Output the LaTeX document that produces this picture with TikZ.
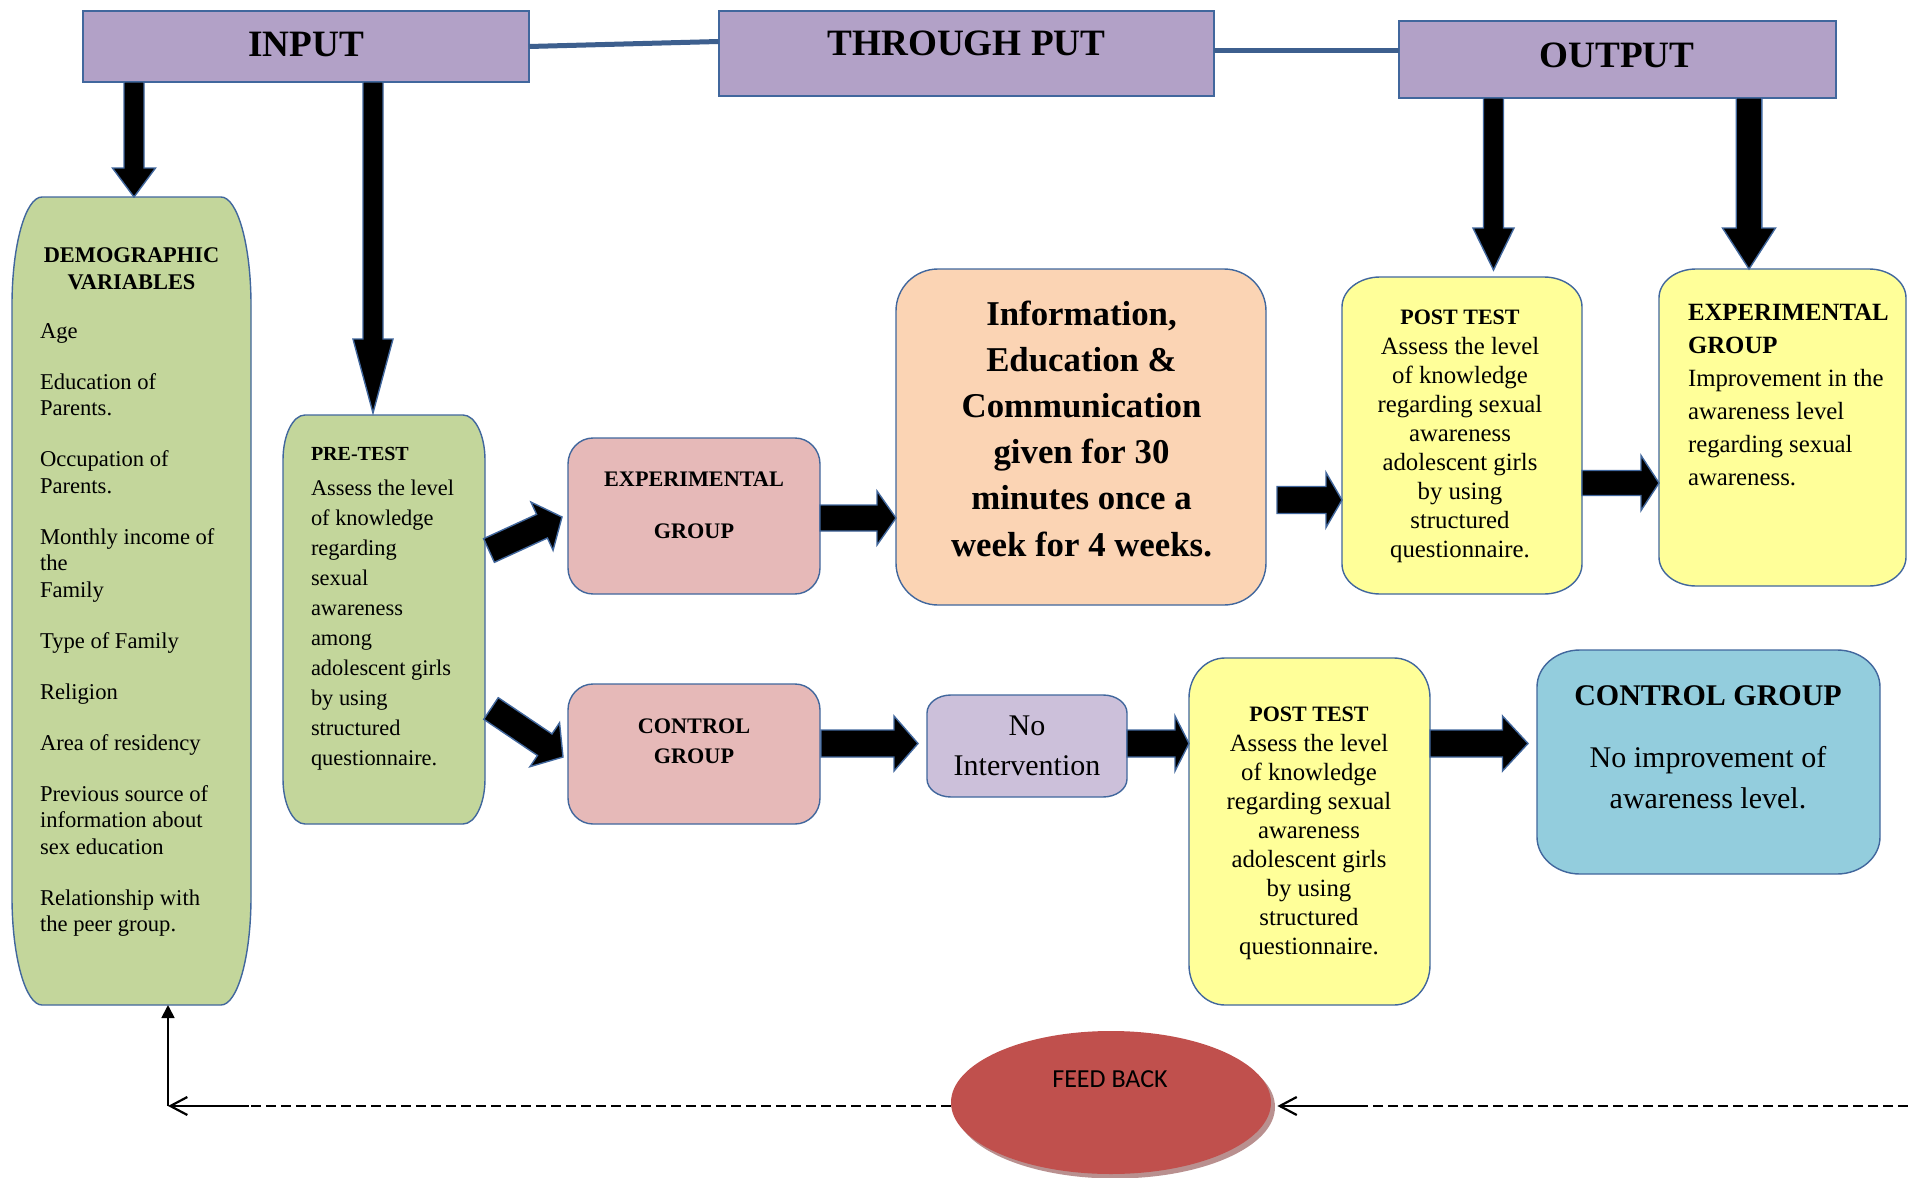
\documentclass[tikz,border=0pt]{standalone}
\usepackage{fontspec}
\setmainfont{Liberation Serif}
\newfontfamily\fbfont{Carlito}
\usetikzlibrary{calc,arrows.meta,shapes.geometric}

\definecolor{hpurple}{HTML}{B2A1C7}
\definecolor{edgeblue}{HTML}{41679D}
\definecolor{hlinec}{HTML}{3D5F8E}
\definecolor{dgreen}{HTML}{C3D69B}
\definecolor{dpink}{HTML}{E6B9B8}
\definecolor{dpeach}{HTML}{FBD4B4}
\definecolor{dyellow}{HTML}{FFFF99}
\definecolor{dlav}{HTML}{CCC0DA}
\definecolor{dblue}{HTML}{93CDDD}
\definecolor{dred}{HTML}{C0504D}
\definecolor{dshadow}{HTML}{B9908F}

% box outline with elliptic corners: #1 node, #2 rx, #3 ry, #4 style
\newcommand\elbox[4]{%
  \path[#4] ($(#1.north west)+(#2,0)$) -- ($(#1.north east)+(-#2,0)$)
  .. controls ($(#1.north east)+(-0.448*#2,0)$) and ($(#1.north east)+(0,0.448*#3)$) .. ($(#1.north east)+(0,#3)$)
  -- ($(#1.south east)+(0,-#3)$)
  .. controls ($(#1.south east)+(0,-0.448*#3)$) and ($(#1.south east)+(-0.448*#2,0)$) .. ($(#1.south east)+(-#2,0)$)
  -- ($(#1.south west)+(#2,0)$)
  .. controls ($(#1.south west)+(0.448*#2,0)$) and ($(#1.south west)+(0,-0.448*#3)$) .. ($(#1.south west)+(0,-#3)$)
  -- ($(#1.north west)+(0,#3)$)
  .. controls ($(#1.north west)+(0,0.448*#3)$) and ($(#1.north west)+(0.448*#2,0)$) .. ($(#1.north west)+(#2,0)$) -- cycle;}

% block arrow: #1 start, #2 tip, #3 half shaft, #4 half head, #5 head length
\newcommand\blockarr[5]{%
  \coordinate (bab) at ($(#2)!#5!(#1)$);
  \filldraw[blockarrow] ($(#1)!#3!90:(#2)$) -- ($(bab)!#3!90:(#2)$) -- ($(bab)!#4!90:(#2)$) -- (#2)
    -- ($(bab)!#4!-90:(#2)$) -- ($(bab)!#3!-90:(#2)$) -- ($(#1)!#3!-90:(#2)$) -- cycle;}

\tikzset{
  boxn/.style={rectangle, inner sep=0pt, outer sep=0pt},
  hdr/.style={rectangle, draw=edgeblue, line width=1pt, fill=hpurple, inner sep=0pt, outer sep=0pt},
  eb/.style={draw=edgeblue, line width=0.7pt},
  blockarrow/.style={fill=black, draw=edgeblue, line width=0.7pt, line join=miter},
  hconn/.style={draw=hlinec, line width=2.5pt},
  txt/.style={inner sep=0pt, outer sep=0pt},
  fbdash/.style={draw=black, line width=0.8pt, dash pattern=on 5pt off 2.5pt},
  fbsolid/.style={draw=black, line width=1.1pt},
  hfont/.style={font=\bfseries\fontsize{18.6}{22}\selectfont},
}

\begin{document}
\begin{tikzpicture}[x=0.5pt, y=-0.5pt]
\path[use as bounding box, fill=white] (0,0) rectangle (1908,1178);

% header boxes
\node[hdr, minimum width=223pt, minimum height=35.5pt] (input) at (306,46.5) {};
\node[hdr, minimum width=247.5pt, minimum height=42.5pt] (through) at (966,53.5) {};
\node[hdr, minimum width=218.5pt, minimum height=38.5pt] (output) at (1617.5,59.5) {};

% header connectors
\draw[hconn] (input.east) -- ($(through.west)+(0,-12)$);
\draw[hconn] ($(through.east)+(0,-3)$) -- ($(output.west)+(0,-9)$);

% rounded boxes (frames)
\node[boxn, minimum width=119.5pt, minimum height=404pt] (demo) at (131.5,601) {};
\node[boxn, minimum width=101pt, minimum height=204.5pt] (pretest) at (384,619.5) {};
\node[boxn, minimum width=126pt, minimum height=78pt] (expg) at (694,516) {};
\node[boxn, minimum width=126pt, minimum height=70pt] (ctrlg) at (694,754) {};
\node[boxn, minimum width=185pt, minimum height=168pt] (info) at (1081,437) {};
\node[boxn, minimum width=120pt, minimum height=158.5pt] (post1) at (1462,435.5) {};
\node[boxn, minimum width=123.5pt, minimum height=158.5pt] (expres) at (1782.5,427.5) {};
\node[boxn, minimum width=100pt, minimum height=51pt] (noint) at (1027,746) {};
\node[boxn, minimum width=120.5pt, minimum height=173.5pt] (post2) at (1309.5,831.5) {};
\node[boxn, minimum width=171.5pt, minimum height=112pt] (ctrlres) at (1708.5,762) {};

\elbox{demo}{30}{108}{eb, fill=dgreen}
\elbox{pretest}{22}{45}{eb, fill=dgreen}
\elbox{expg}{25}{26}{eb, fill=dpink}
\elbox{ctrlg}{25}{26}{eb, fill=dpink}
\elbox{info}{42}{42}{eb, fill=dpeach}
\elbox{post1}{38}{30}{eb, fill=dyellow}
\elbox{expres}{37}{29}{eb, fill=dyellow}
\elbox{noint}{24}{18}{eb, fill=dlav}
\elbox{post2}{36}{40}{eb, fill=dyellow}
\elbox{ctrlres}{43}{37}{eb, fill=dblue}

% vertical block arrows
\coordinate (a1t) at ($(demo.north)+(2.5,0)$);
\coordinate (a1s) at (input.south -| a1t);
\blockarr{a1s}{a1t}{5pt}{10.75pt}{14.5pt}
\coordinate (a2t) at ($(pretest.north)+(-11,-2)$);
\coordinate (a2s) at (input.south -| a2t);
\blockarr{a2s}{a2t}{5pt}{10pt}{37pt}
\coordinate (a3t) at ($(post1.north)+(31.5,-7)$);
\coordinate (a3s) at (output.south -| a3t);
\blockarr{a3s}{a3t}{5pt}{10.25pt}{21pt}
\coordinate (a4t) at ($(expres.north)+(-33.5,0)$);
\coordinate (a4s) at (output.south -| a4t);
\blockarr{a4s}{a4t}{6.4pt}{13.25pt}{20.5pt}

% horizontal block arrows
\coordinate (b1s) at ($(expg.east)+(0,2)$);
\coordinate (b1t) at (info.west |- b1s);
\blockarr{b1s}{b1t}{6.5pt}{13.5pt}{9.5pt}
\coordinate (b2s) at ($(info.east)+(11,63)$);
\coordinate (b2t) at (post1.west |- b2s);
\blockarr{b2s}{b2t}{6.75pt}{13.75pt}{8pt}
\coordinate (b3s) at ($(post1.east)+(0,47.5)$);
\coordinate (b3t) at (expres.west |- b3s);
\blockarr{b3s}{b3t}{6.25pt}{13.75pt}{9pt}
\coordinate (b4s) at ($(ctrlg.east)+(1,-10.5)$);
\coordinate (b4t) at ($(noint.west |- b4s)+(-9,0)$);
\blockarr{b4s}{b4t}{6.75pt}{13.75pt}{12pt}
\coordinate (b5s) at (noint.east |- b4s);
\coordinate (b5t) at (post2.west |- b4s);
\blockarr{b5s}{b5t}{6.75pt}{13.75pt}{7pt}
\coordinate (b6s) at (post2.east |- b4s);
\coordinate (b6t) at ($(ctrlres.west |- b4s)+(-9,0)$);
\blockarr{b6s}{b6t}{6.75pt}{13.75pt}{12.75pt}

% diagonal block arrows
\coordinate (d1s) at ($(pretest.east)+(4,-69)$);
\coordinate (d1t) at ($(expg.west)+(-6,1)$);
\blockarr{d1s}{d1t}{6.5pt}{13.25pt}{11pt}
\coordinate (d2s) at ($(pretest.east)+(6,89)$);
\coordinate (d2t) at ($(ctrlg.west)+(-5,3)$);
\blockarr{d2s}{d2t}{6.5pt}{13.25pt}{11pt}

% feedback ellipse
\fill[dshadow] (1115,1107) ellipse [x radius=80pt, y radius=35.75pt];
\node[ellipse, fill=dred, minimum width=160pt, minimum height=71.5pt, inner sep=0pt] (feedback) at (1111,1102.5) {};

% feedback lines
\coordinate (fbR) at (1908,1106);
\coordinate (fbRs) at (1360,1106);
\coordinate (fbRt) at ($(feedback.east)+(6,3.5)$);
\draw[fbdash] (fbR) -- (fbRs);
\draw[fbsolid, -{Straight Barb[length=8.5pt,width=9pt]}] (fbRs) -- (fbRt);
\coordinate (fbLs) at ($(feedback.west)+(0,3.5)$);
\coordinate (fbLm) at (249,1106);
\coordinate (fbC) at (168,1106);
\draw[fbdash] (fbLs) -- (fbLm);
\draw[fbsolid, -{Straight Barb[length=8.5pt,width=9pt]}] (fbLm) -- (fbC);
\draw[draw=black, line width=0.9pt, -{Triangle[length=6.5pt,width=6.5pt]}] (fbC) -- (demo.south -| fbC);

% texts
\node[txt, anchor=base, hfont] (t-input) at (306,56) {INPUT};
\node[txt, anchor=base, hfont] (t-through) at (966.5,55) {THROUGH PUT};
\node[txt, anchor=base, hfont] (t-output) at (1617,67) {OUTPUT};

\node[txt, anchor=north, align=center, font=\bfseries\fontsize{11.2}{13.5}\selectfont] (t-demohead) at (131.5,243.1) {\strut DEMOGRAPHIC\\VARIABLES};
\node[txt, anchor=north west, align=left, font=\fontsize{11.3}{13.25}\selectfont] (t-demo) at (40,319.5)
 {\strut Age\\[12.25pt]Education of\\Parents.\\[12.25pt]Occupation of\\Parents.\\[12.25pt]Monthly income of\\the\\Family\\[12.25pt]Type of Family\\[12.25pt]Religion\\[12.25pt]Area of residency\\[12.25pt]Previous source of\\information about\\sex education\\[12.25pt]Relationship with\\the peer group.};

\node[txt, anchor=north west, align=left, font=\fontsize{11.2}{15}\selectfont] (t-pretest) at (311,439)
 {\strut{\bfseries\fontsize{10}{15}\selectfont PRE-TEST}\\[2.75pt]Assess the level\\of knowledge\\regarding\\sexual\\awareness\\among\\adolescent girls\\by using\\structured\\questionnaire.};

\node[txt, anchor=north, align=center, font=\bfseries\fontsize{11.1}{26}\selectfont] (t-expg) at (694,449.6) {\strut EXPERIMENTAL\\GROUP};
\node[txt, anchor=north, align=center, font=\bfseries\fontsize{11.1}{15}\selectfont] (t-ctrlg) at (694,712) {\strut CONTROL\\GROUP};

\node[txt, anchor=north, align=center, font=\bfseries\fontsize{17.4}{23.1}\selectfont] (t-info) at (1081.5,292.7)
 {\strut Information,\\Education \&\\Communication\\given for 30\\minutes once a\\week for 4 weeks.};

\node[txt, anchor=north, align=center, font=\fontsize{12.4}{14.55}\selectfont] (t-post1) at (1460,304.6)
 {\strut{\bfseries\fontsize{11}{14.55}\selectfont POST TEST}\\Assess the level\\of knowledge\\regarding sexual\\awareness\\adolescent girls\\by using\\structured\\questionnaire.};

\node[txt, anchor=north west, align=left, font=\fontsize{12.4}{16.5}\selectfont] (t-expres) at (1688,296.9)
 {\strut{\bfseries EXPERIMENTAL}\\{\bfseries GROUP}\\Improvement in the\\awareness level\\regarding sexual\\awareness.};

\node[txt, anchor=north, align=center, font=\fontsize{15}{20}\selectfont] (t-noint) at (1027,707) {\strut No\\Intervention};

\node[txt, anchor=north, align=center, font=\fontsize{12.4}{14.55}\selectfont] (t-post2) at (1309,701.6)
 {\strut{\bfseries\fontsize{11}{14.55}\selectfont POST TEST}\\Assess the level\\of knowledge\\regarding sexual\\awareness\\adolescent girls\\by using\\structured\\questionnaire.};

\node[txt, anchor=north, align=center, font=\fontsize{15}{20.5}\selectfont] (t-ctrlres) at (1708,676.3)
 {\strut{\bfseries CONTROL GROUP}\\[10.5pt]No improvement of\\awareness level.};

\node[txt, anchor=base, font=\fbfont\fontsize{13}{15}\selectfont] (t-feedback) at (1110,1087) {FEED BACK};
\end{tikzpicture}
\end{document}
